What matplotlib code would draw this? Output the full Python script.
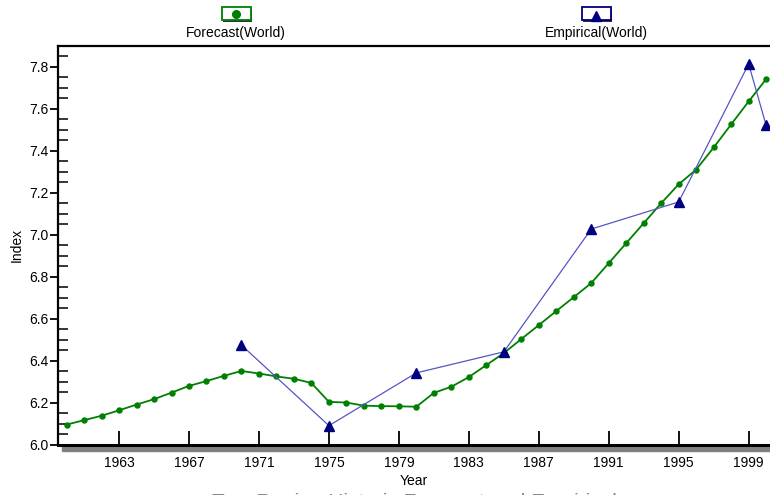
import numpy as np
import matplotlib.pyplot as plt
from matplotlib.patches import Rectangle
from matplotlib.lines import Line2D
from matplotlib.ticker import MultipleLocator, FormatStrFormatter

plt.rcParams['font.family'] = ['Liberation Sans', 'DejaVu Sans']

# forecast, one value per year
fc_years = np.arange(1960, 2001)
fc_values = [6.097, 6.118, 6.139, 6.165, 6.192, 6.218, 6.249, 6.281, 6.304, 6.329,
             6.352, 6.340, 6.326, 6.315, 6.295, 6.205, 6.202, 6.187, 6.185, 6.184,
             6.182, 6.248, 6.277, 6.323, 6.380, 6.437, 6.504, 6.570, 6.637, 6.703,
             6.770, 6.865, 6.960, 7.055, 7.150, 7.240, 7.310, 7.415, 7.525, 7.634,
             7.740]

# empirical observations
emp_years = [1970, 1975, 1980, 1985, 1990, 1995, 1999, 2000]
emp_values = [6.475, 6.092, 6.343, 6.443, 7.027, 7.156, 7.812, 7.520]

x_ticks = np.arange(1963, 2000, 4)
labels = ['Forecast(World)', 'Empirical(World)']

W, H = 770, 495
fig = plt.figure(figsize=(W / 100, H / 100), dpi=100)
ax = fig.add_axes([58 / W, 50 / H, 712 / W, 399.5 / H])

green = '#008000'
navy = '#000080'

ax.plot(fc_years, fc_values, color=green, lw=1.3, marker='o', ms=3.6,
        clip_on=False, zorder=3)
ax.plot(emp_years, emp_values, color='#5555c8', lw=0.9, marker='^', ms=7,
        mfc=navy, mec=navy, clip_on=False, zorder=4)

ax.set_xlim(1959.51, 2000.22)
ax.set_ylim(6.0, 7.9)
ax.set_xticks(x_ticks)
ax.yaxis.set_major_locator(MultipleLocator(0.2))
ax.yaxis.set_minor_locator(MultipleLocator(0.05))
ax.yaxis.set_major_formatter(FormatStrFormatter('%.1f'))

ax.tick_params(axis='x', direction='in', length=10, width=1.3, labelsize=10, pad=8)
ax.tick_params(axis='y', which='major', direction='out', length=6, width=1.3,
               labelsize=10, pad=1)
ax.tick_params(axis='y', which='minor', direction='in', length=7, width=1.1)

for s in ['left', 'top']:
    ax.spines[s].set_linewidth(1.6)
ax.spines['bottom'].set_linewidth(2.2)
ax.spines['right'].set_visible(False)

# gray shadow under the x axis
ax.add_patch(Rectangle((4 / 712, -6 / 399.5), 1, 5 / 399.5, transform=ax.transAxes,
                       color='#808080', clip_on=False, zorder=1))

ax.set_xlabel('Year', fontsize=10, labelpad=3)
ax.set_ylabel('Index', fontsize=10, labelpad=4)

# legend boxes above the plot
def legend_entry(cx, label, color, marker, ms, dy):
    bx, by, bw, bh = cx - 14.5, 7, 29, 13
    fig.add_artist(Rectangle(((bx + 1.5) / W, 1 - (by + bh + 1.5) / H), bw / W, bh / H,
                             transform=fig.transFigure, facecolor='#333333',
                             edgecolor='none'))
    fig.add_artist(Rectangle((bx / W, 1 - (by + bh) / H), bw / W, bh / H,
                             transform=fig.transFigure, facecolor='white',
                             edgecolor=color, lw=1.3))
    fig.add_artist(Line2D([cx / W], [1 - (by + bh / 2 + dy) / H], marker=marker,
                          ms=ms, color=color, transform=fig.transFigure))
    fig.text(cx / W, 1 - 33 / H, label, ha='center', va='center', fontsize=10)

legend_entry(236, labels[0], green, 'o', 5.5, 0)
legend_entry(596, labels[1], navy, '^', 7, 2)

# caption at the bottom edge, cut off as in the original
fig.text(414 / W, 1 - 503 / H, 'Two Region Historic Forecast and Empirical',
         ha='center', va='center', fontsize=15, color='#888888')

fig.savefig('out.png', dpi=100)
